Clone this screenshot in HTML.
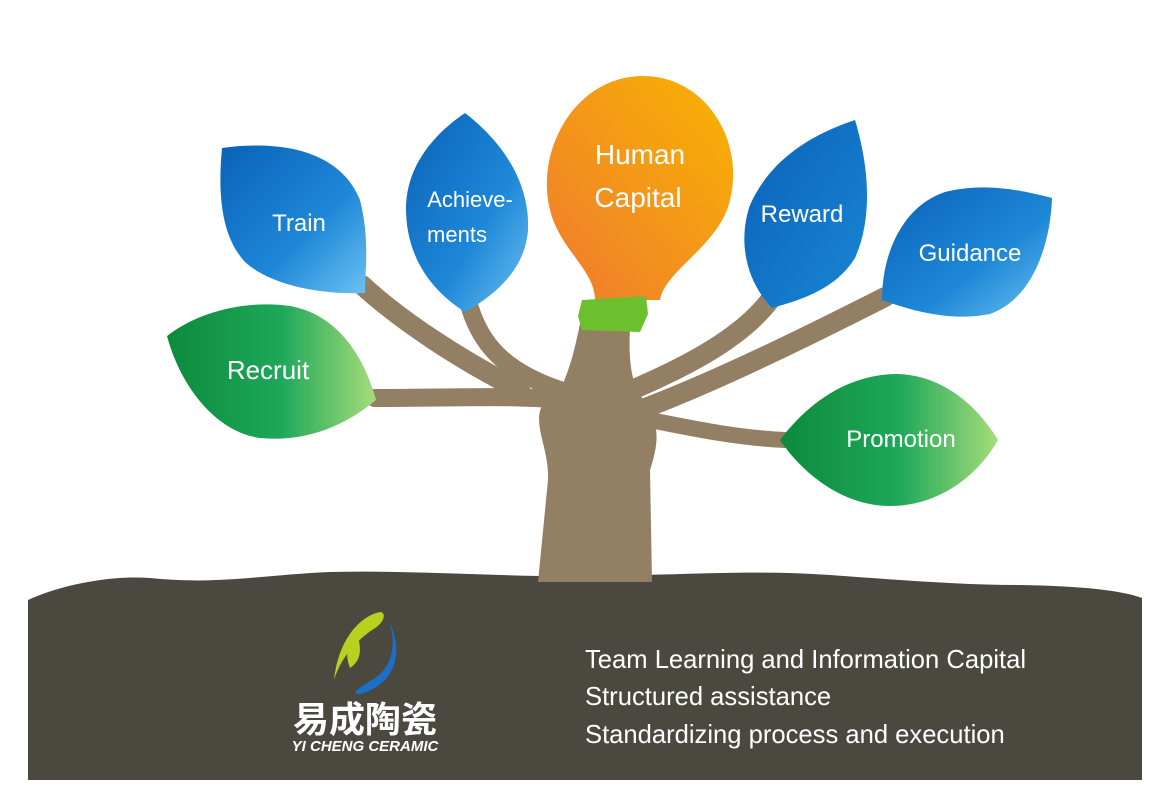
<!DOCTYPE html>
<html><head><meta charset="utf-8"><style>
body{margin:0;background:#fff;}
svg{display:block;font-family:"Liberation Sans",Arial,sans-serif;}
</style></head><body>
<svg width="1166" height="797" viewBox="0 0 1166 797">
<defs>
<linearGradient id="bl" x1="0" y1="0" x2="1" y2="1"><stop offset="0" stop-color="#0a62b8"/><stop offset="0.6" stop-color="#1e88d8"/><stop offset="1" stop-color="#6cc0f0"/></linearGradient>
<linearGradient id="bl2" x1="0" y1="0" x2="1" y2="1"><stop offset="0" stop-color="#0a62b8"/><stop offset="1" stop-color="#1a86d6"/></linearGradient>
<linearGradient id="gr" x1="0" y1="0" x2="1" y2="0"><stop offset="0" stop-color="#0c8a3c"/><stop offset="0.55" stop-color="#1fa85a"/><stop offset="1" stop-color="#a6dd7a"/></linearGradient>
<linearGradient id="or" x1="0" y1="1" x2="1" y2="0"><stop offset="0" stop-color="#f07a30"/><stop offset="1" stop-color="#f8b400"/></linearGradient>
</defs>
<path d="M28 600 C60 585 110 575 150 578 C220 585 260 575 330 572 C420 570 520 578 600 576 C700 574 760 570 830 575 C900 580 960 585 1020 585 C1080 586 1120 590 1142 598 L1142 780 L28 780 Z" fill="#4b4840"/>
<g fill="none" stroke="#937f63" stroke-linecap="round">
<path d="M560 400 C520 395 450 398 375 398" stroke-width="18"/>
<path d="M520 390 C460 360 400 320 362 285" stroke-width="20"/>
<path d="M560 390 C500 370 480 340 470 308" stroke-width="18"/>
<path d="M620 395 C680 370 740 340 770 300" stroke-width="20"/>
<path d="M640 410 C720 380 820 330 885 297" stroke-width="20"/>
<path d="M650 420 C700 430 740 438 785 440" stroke-width="16"/>
</g>
<path d="M538 582 L548 480 C550 440 520 410 560 390 C575 360 580 320 585 300 L632 300 C630 330 625 370 640 395 C660 420 660 440 650 470 L652 582 Z" fill="#937f63"/>
<path d="M222 148 C280 140 340 150 360 200 C370 240 365 270 365 293 C320 295 270 285 245 262 C220 235 218 190 222 148 Z" fill="url(#bl)"/>
<path d="M465 113 C500 140 530 180 528 230 C525 270 495 295 465 312 C430 290 405 255 406 205 C408 160 440 130 465 113 Z" fill="url(#bl)"/>
<path d="M855 120 C870 170 872 220 855 258 C835 290 800 300 772 308 C745 280 738 240 750 205 C770 160 810 135 855 120 Z" fill="url(#bl2)"/>
<path d="M1052 198 C1050 250 1030 300 990 314 C950 322 910 310 882 300 C882 250 905 205 945 192 C985 182 1020 190 1052 198 Z" fill="url(#bl)"/>
<path d="M167 336 C200 310 250 300 290 306 C340 315 365 360 376 400 C340 430 300 442 260 438 C215 432 180 385 167 336 Z" fill="url(#gr)"/>
<path d="M780 440 C810 400 850 375 895 374 C945 374 980 410 998 440 C975 480 935 506 890 506 C840 506 800 470 780 440 Z" fill="url(#gr)"/>
<path d="M595 300 C595 270 560 250 550 210 C535 150 575 78 640 76 C705 74 745 140 730 200 C720 245 665 270 660 300 Z" fill="url(#or)"/>
<path d="M582 300 L646 296 L648 314 L640 332 L582 330 L578 316 Z" fill="#6cc02e"/>
<g fill="#fff" font-size="24">
<text x="640" y="164" text-anchor="middle" font-size="28">Human</text>
<text x="638" y="207" text-anchor="middle" font-size="28">Capital</text>
<text x="299" y="231" text-anchor="middle">Train</text>
<text x="470" y="207" text-anchor="middle" font-size="22">Achieve-</text>
<text x="457" y="242" text-anchor="middle" font-size="22">ments</text>
<text x="802" y="222" text-anchor="middle">Reward</text>
<text x="970" y="261" text-anchor="middle">Guidance</text>
<text x="268" y="379" text-anchor="middle" font-size="26">Recruit</text>
<text x="901" y="447" text-anchor="middle">Promotion</text>
<g font-size="25.6">
<text x="585" y="668">Team Learning and Information Capital</text>
<text x="585" y="705">Structured assistance</text>
<text x="585" y="743">Standardizing process and execution</text>
</g>
</g>
<path d="M380 612 C360 616 338 640 334 680 C342 655 358 640 372 630 C386 622 386 612 380 612 Z" fill="#b8d020"/>
<path d="M350 668 C344 652 348 640 356 630 C362 648 362 660 350 668 Z" fill="#b8d020"/>
<path d="M388 618 C398 645 392 668 372 680 C358 688 350 695 360 694 C390 686 404 660 392 628 Z" fill="#1a70c8"/>
<text x="365" y="732" text-anchor="middle" fill="#fff" font-size="36" font-weight="bold" font-family="'Noto Sans CJK SC',sans-serif">易成陶瓷</text>
<text x="365" y="751" text-anchor="middle" fill="#fff" font-size="15" font-weight="bold" font-style="italic">YI CHENG CERAMIC</text>
</svg>
</body></html>
